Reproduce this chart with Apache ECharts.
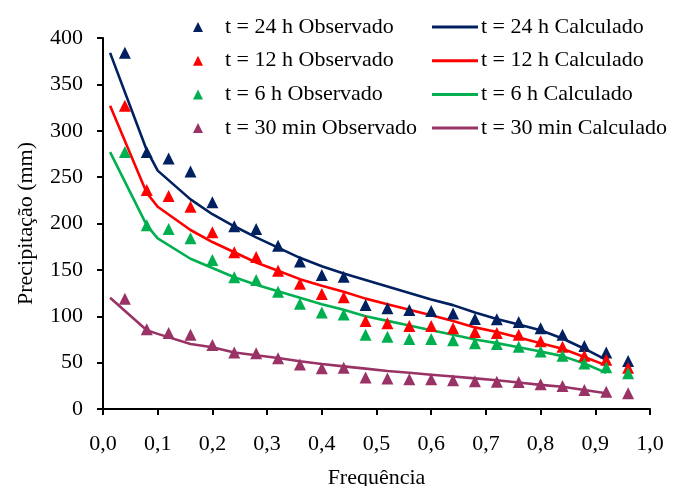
<!DOCTYPE html>
<html>
<head>
<meta charset="utf-8">
<script src="https://cdn.jsdelivr.net/npm/echarts@6/dist/echarts.min.js"></script>
<style>
html,body{margin:0;padding:0;background:#fff;}
#c{width:682px;height:486px;}
</style>
</head>
<body>
<div id="c"></div>
<script>
// Frequencies (x values)
var freqObs = [0.04,0.08,0.12,0.16,0.20,0.24,0.28,0.32,0.36,0.40,0.44,0.48,0.52,0.56,0.60,0.64,0.68,0.72,0.76,0.80,0.84,0.88,0.92,0.96];
var freqCalc = [0.013,0.08,0.10,0.16,0.20,0.24,0.28,0.32,0.36,0.40,0.44,0.48,0.52,0.56,0.60,0.64,0.68,0.72,0.76,0.80,0.84,0.88,0.92];

// Observed precipitation (mm)
var obs24h = [384,277,270,256,223,197,194,176,159,144.5,142.6,112,108.5,106.7,105.7,103,97,96.7,93.8,87,80,68,61,51.7];
var obs12h = [327,236,229.6,218,190.5,169,164,149,135,124,120.5,95,92.4,89.5,89.5,87,83,82,80,73,67,57.5,53,44.5];
var obs6h  = [277,198,194,184,160.6,142,139,126.5,113.5,104,102,80,78,75.5,75.5,74,71,70,67,62,57.5,49,45,38.5];
var obs30m = [119,86,82,80,69,61,60,54.6,48,44,44.5,34,33,32,32,31,30,29.4,29,26.6,24.8,20.5,18.7,17];

// Calculated precipitation (mm)
var calc24h = [384,279,257,226,210,197,185,174,163,154,146,139,132,125,118,112,104,97,91,85,76,65,53];
var calc12h = [327,233,218,193,180,169,158,149,140,133,126.5,119,113,107,101,95,88,83,77,71,65,56,47];
var calc6h  = [277,198,184,162,152,142,134,127,120,113,107,100,95,90,85,80,75,71,66.5,62,57,49,39];
var calc30m = [120,85,81,70,66.5,61,58,55,51.5,48.5,46,43.5,41,39,37,35,33,31,28.5,26,24,20.5,17];

var namesObs = ['t = 24 h Observado','t = 12 h Observado','t = 6 h Observado','t = 30 min Observado'];
var namesCalc = ['t = 24 h Calculado','t = 12 h Calculado','t = 6 h Calculado','t = 30 min Calculado'];
var colors = ['#002060','#FF0000','#00B050','#993366'];

var yTicks = [0,50,100,150,200,250,300,350,400];

function pairs(xs, ys){ return ys.map(function(v,i){ return [xs[i], v]; }); }

var obsSets = [obs24h, obs12h, obs6h, obs30m];
var calcSets = [calc24h, calc12h, calc6h, calc30m];

var series = [];
calcSets.forEach(function(d,i){
  series.push({
    name: namesCalc[i], type:'line', data: pairs(freqCalc, d),
    showSymbol:false, symbol:'none', z:2,
    lineStyle:{color:colors[i], width:2.6}, itemStyle:{color:colors[i]}
  });
});
obsSets.forEach(function(d,i){
  series.push({
    name: namesObs[i], type:'scatter', data: pairs(freqObs, d),
    symbol:'triangle', symbolSize:12, z:3,
    itemStyle:{color:colors[i], opacity:1}
  });
});

var font = 'Liberation Serif';
var fs = 22;
var chart = echarts.init(document.getElementById('c'), null, {renderer:'canvas'});
chart.setOption({
  backgroundColor:'#fff',
  animation:false,
  textStyle:{fontFamily:font},
  grid:{left:103, right:32, top:38, bottom:77, containLabel:false, outerBoundsMode:'none'},
  legend:[{
    orient:'vertical', left:188, top:11, data:namesObs,
    icon:'triangle', itemWidth:10, itemHeight:10, itemGap:11.7,
    textStyle:{fontFamily:font, fontSize:fs, color:'#000', padding:[0,0,0,17], lineHeight:22}
  },{
    orient:'vertical', left:427, top:11, data:namesCalc,
    icon:'rect', itemWidth:46, itemHeight:3, itemGap:11.7,
    textStyle:{fontFamily:font, fontSize:fs, color:'#000', padding:[0,0,0,-2], lineHeight:22}
  }],
  xAxis:{
    type:'value', min:0, max:1, interval:0.1,
    name:'Frequência', nameLocation:'middle', nameGap:58,
    nameTextStyle:{fontFamily:font, fontSize:fs, color:'#000'},
    axisLine:{show:true, lineStyle:{color:'#000', width:2}},
    axisTick:{show:true, inside:false, length:6, lineStyle:{color:'#000', width:2}},
    axisLabel:{fontFamily:font, fontSize:fs, color:'#000', margin:24,
      formatter:function(v){ return v.toFixed(1).replace('.', ','); }},
    splitLine:{show:false}
  },
  yAxis:{
    type:'value', min:yTicks[0], max:yTicks[yTicks.length-1], interval:50,
    name:'Precipitação (mm)', nameLocation:'middle', nameGap:66,
    nameTextStyle:{fontFamily:font, fontSize:fs, color:'#000'},
    axisLine:{show:true, lineStyle:{color:'#000', width:2}},
    axisTick:{show:true, inside:false, length:6, lineStyle:{color:'#000', width:2}},
    axisLabel:{fontFamily:font, fontSize:fs, color:'#000', margin:20},
    splitLine:{show:false}
  },
  series:series
});
</script>
</body>
</html>
